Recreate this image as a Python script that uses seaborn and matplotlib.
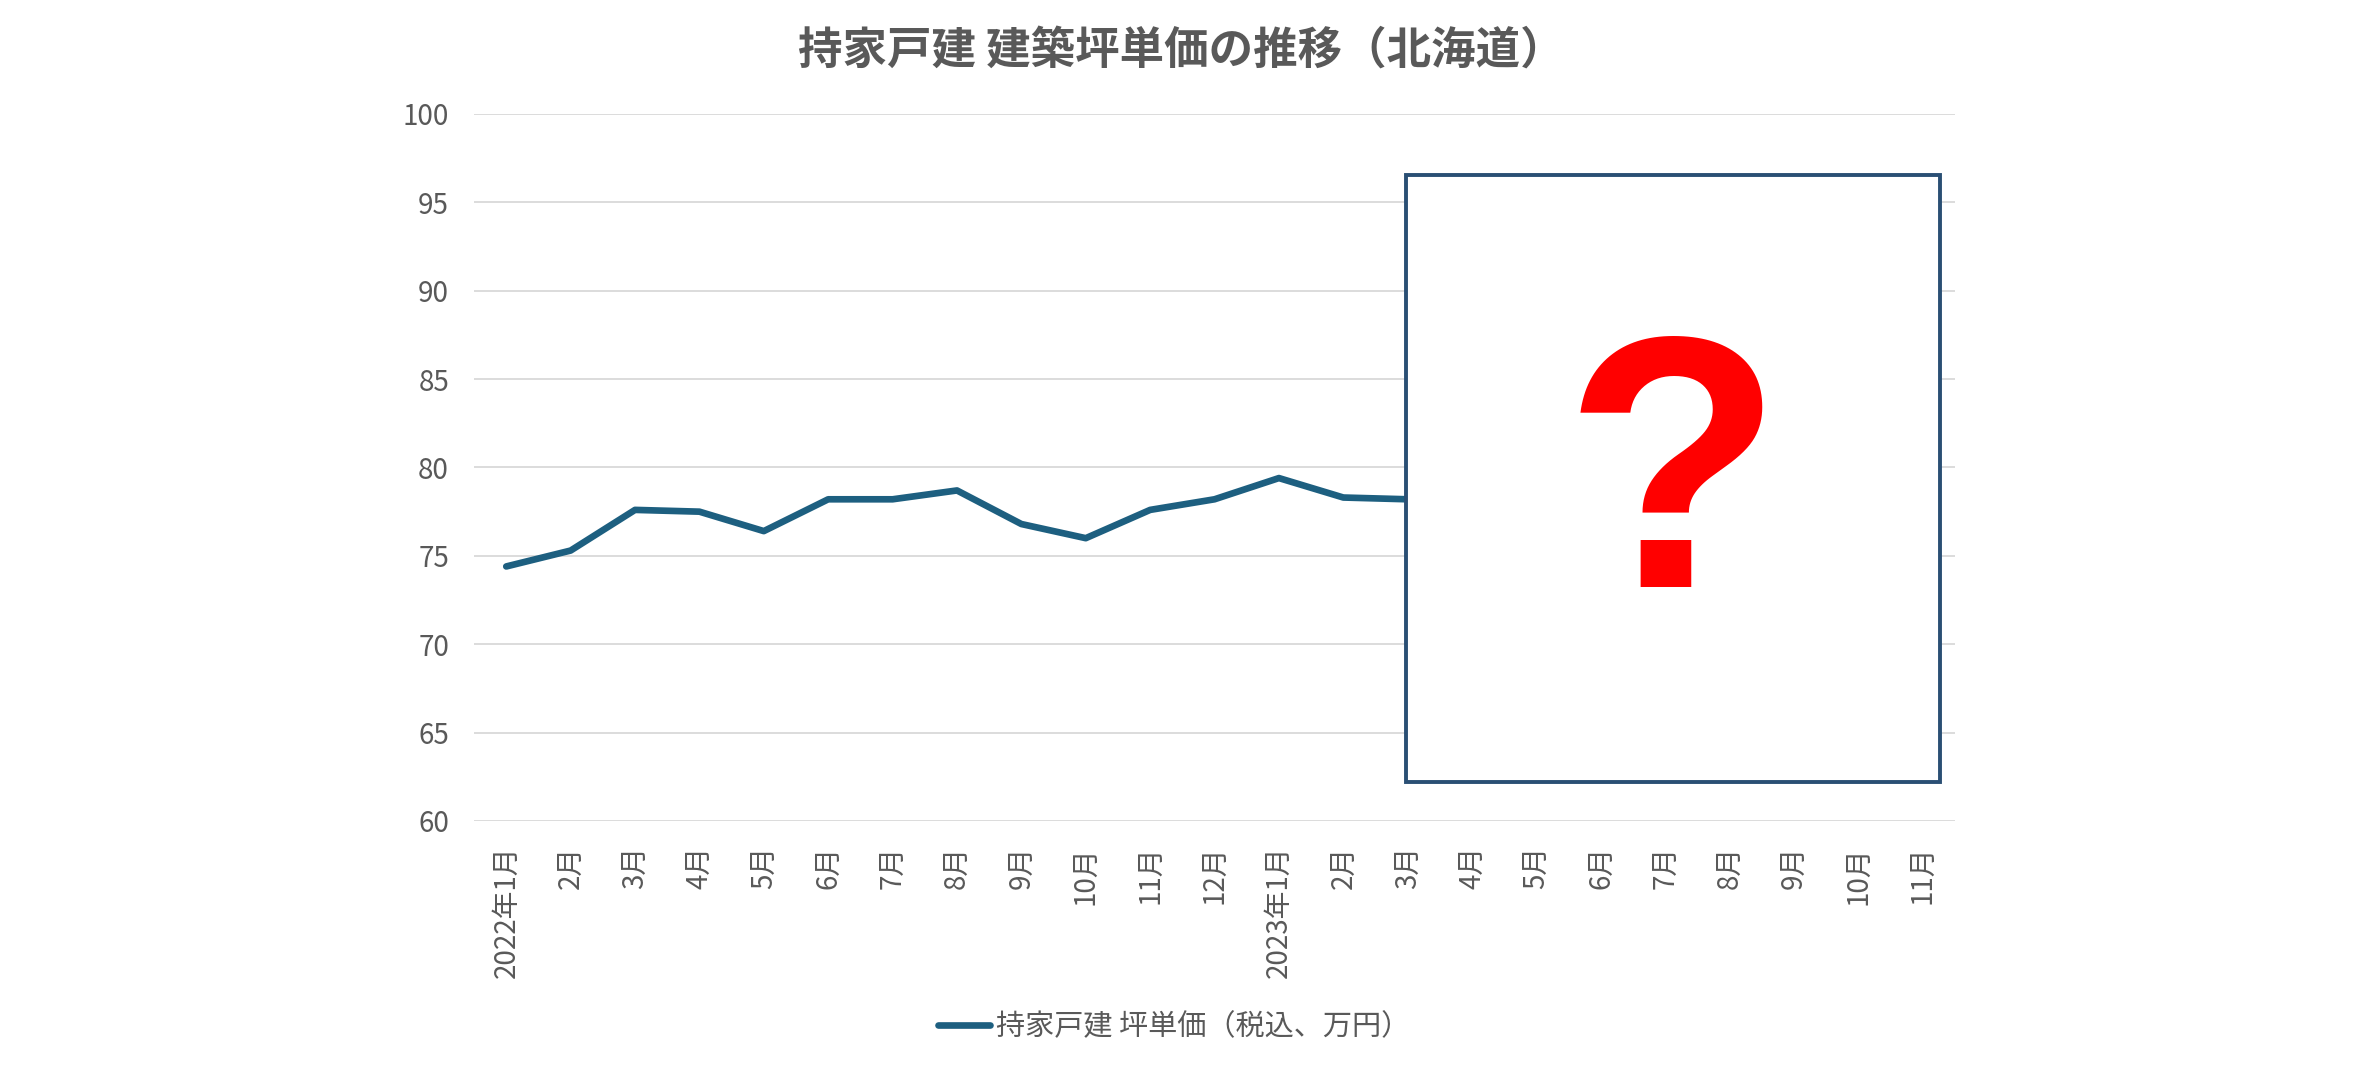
import numpy as np
import pandas as pd
import matplotlib
matplotlib.use("Agg")
import matplotlib.pyplot as plt
import seaborn as sns
from matplotlib.patches import Rectangle

# ===============================
# Data
# ===============================

months = ["2022年1月", "2月", "3月", "4月", "5月", "6月", "7月", "8月", "9月", "10月", "11月", "12月",
          "2023年1月", "2月", "3月", "4月", "5月", "6月", "7月", "8月", "9月", "10月", "11月"]

# visible part of the series (the rest is hidden behind the "?" box)
price = [74.4, 75.3, 77.6, 77.5, 76.4, 78.2, 78.2, 78.7, 76.8, 76.0, 77.6, 78.2, 79.4, 78.3, 78.2]

series_name = "持家戸建 坪単価（税込、万円）"
title = "持家戸建 建築坪単価の推移（北海道）"
yticks = list(range(60, 101, 5))

line_color = "#1d5f80"
text_color = "#595959"
grid_color = "#d9d9d9"

# ===============================
# Style
# ===============================

sns.set_theme(style="white")
plt.rcParams['font.family'] = ['Noto Sans CJK JP', 'DejaVu Sans']

df = pd.DataFrame({"idx": np.arange(len(price)), "price": price})

fig = plt.figure(figsize=(23.62, 10.69), dpi=100)
ax = fig.add_axes([0.2007, 0.232, 0.627, 0.6614])

sns.lineplot(data=df, x="idx", y="price", color=line_color, linewidth=4.8,
             label=series_name, ax=ax, solid_capstyle="round")

ax.set_xlim(-0.5, len(months) - 0.5)
ax.set_ylim(60, 100)
ax.set_yticks(yticks)
ax.set_xticks(range(len(months)))
ax.set_xticklabels(months, rotation=90)
ax.set_xlabel("")
ax.set_ylabel("")

ax.yaxis.grid(True, color=grid_color, linewidth=1.3)
ax.xaxis.grid(False)
ax.set_axisbelow(True)
for s in ax.spines.values():
    s.set_visible(False)
ax.tick_params(axis="both", length=0, labelsize=20, labelcolor=text_color, pad=18)

# legend at the bottom
handles, labels = ax.get_legend_handles_labels()
ax.get_legend().remove()
fig.legend(handles, labels, loc="center", bbox_to_anchor=(0.497, 0.039), frameon=False,
           fontsize=21, labelcolor=text_color, handlelength=1.8, handletextpad=0.2)

# title
fig.text(0.5, 0.953, title, ha="center", va="center", fontsize=32,
         fontweight="bold", color=text_color)

# box with question mark
fig.add_artist(Rectangle((0.5953, 0.2685), 0.226, 0.568, transform=fig.transFigure,
                         facecolor="white", edgecolor="#2a4f74", linewidth=2.8, zorder=10))
fig.text(0.7083, 0.4509, "?", fontsize=258, color="#ff0000", fontweight="bold",
         family="Liberation Sans", ha="center", va="baseline", zorder=11)

fig.savefig("out.png", dpi=100)
